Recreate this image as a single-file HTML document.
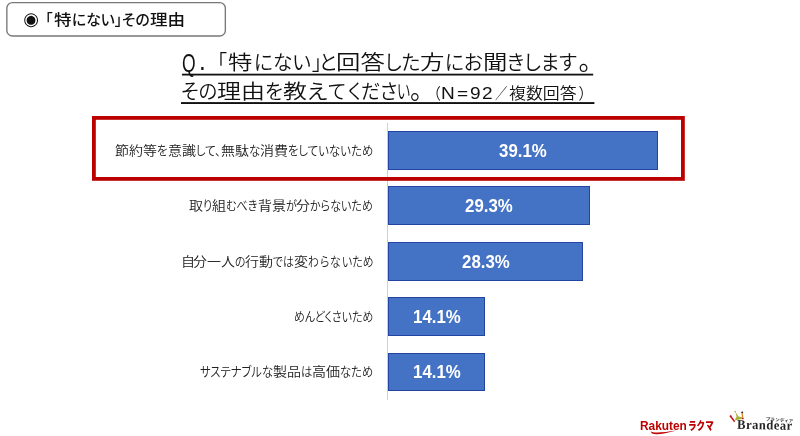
<!DOCTYPE html>
<html lang="ja"><head><meta charset="utf-8"><title>「特にない」その理由</title>
<style>
html,body{margin:0;padding:0;background:#fff}
body{width:800px;height:436px;position:relative;overflow:hidden;font-family:"Liberation Sans","Noto Sans CJK JP",sans-serif;color:#1a1a1a;font-feature-settings:"palt"}
.abs{position:absolute}
.r{display:inline-block;white-space:pre;vertical-align:baseline;line-height:0}
.r>span{display:inline-block;transform-origin:0 50%;white-space:pre}
#tagt{position:absolute;left:23px;top:8px;font-size:15px;font-weight:500;line-height:24px;white-space:nowrap;color:#111}
.t{position:absolute;white-space:nowrap;color:#111;font-size:20.5px;line-height:30px;font-weight:350}
.ul{position:absolute;height:1.9px;background:#111}
#axis{position:absolute;left:387px;top:122.7px;width:1px;height:277px;background:#d0d0d0}
.bar{position:absolute;left:388px;height:38.8px;background:#4472c4;box-sizing:border-box;border:1px solid #2444a4;display:flex;align-items:center;justify-content:center}
.bar span{display:inline-block;color:#fff;font-weight:bold;font-size:17.6px;line-height:1;position:relative;top:1.2px;font-feature-settings:normal;transform:scaleX(0.955)}
.lab{position:absolute;right:426.8px;height:38.8px;line-height:38.8px;font-size:13px;font-weight:350;white-space:nowrap;color:#222}
</style></head><body>
<svg class="abs" style="left:0;top:0" width="800" height="436" viewBox="0 0 800 436"><rect x="6.85" y="2.6" width="218.5" height="33.4" rx="5.6" fill="#fff" stroke="#777" stroke-width="1.35"/><rect x="182" y="73.7" width="411.2" height="1.8" fill="#111"/><rect x="181" y="102.1" width="413.4" height="1.9" fill="#111"/></svg>
<div class="abs" id="bul" style="left:23.3px;top:5.9px;font-family:'DejaVu Sans',sans-serif;font-size:18px;line-height:26px;color:#111;font-feature-settings:normal">◉</div>
<div id="tagt"><span class="r" style="width:22.00px;font-size:1px;overflow:hidden"> </span><span class="r" style="width:7.40px;"><span style="transform:scaleX(0.985)">「</span></span><span class="r" style="width:0;margin-left:2.00px"></span><span class="r" style="width:17.61px;"><span style="transform:scaleX(1.173)">特</span></span><span class="r" style="width:77.66px;"><span style="transform:scaleX(0.985)">にない」その</span></span><span class="r" style="width:35.21px;"><span style="transform:scaleX(1.173)">理由</span></span></div>
<div class="t" id="t1" style="left:182px;top:48.0px"><span class="r" style="width:13.62px;font-size:25.0px;position:relative;top:1.5px;"><span style="transform:scaleX(0.700)">Q</span></span><span class="r" style="width:0;margin-left:3.50px"></span><span class="r" style="width:6.76px;font-size:27.0px;"><span style="transform:scaleX(0.900)">.</span></span><span class="r" style="width:11.00px;font-size:1px;overflow:hidden"> </span><span class="r" style="width:9.84px;"><span style="transform:scaleX(0.960)">「</span></span><span class="r" style="width:0;margin-left:1.10px"></span><span class="r" style="width:24.39px;"><span style="transform:scaleX(1.190)">特</span></span><span class="r" style="width:0;margin-left:1.50px"></span><span class="r" style="width:56.86px;"><span style="transform:scaleX(0.960)">にない</span></span><span class="r" style="width:0;margin-left:1.00px"></span><span class="r" style="width:9.84px;"><span style="transform:scaleX(0.960)">」</span></span><span class="r" style="width:0;margin-left:-2.50px"></span><span class="r" style="width:17.34px;"><span style="transform:scaleX(0.960)">と</span></span><span class="r" style="width:48.79px;"><span style="transform:scaleX(1.190)">回答</span></span><span class="r" style="width:35.41px;"><span style="transform:scaleX(0.960)">した</span></span><span class="r" style="width:24.39px;"><span style="transform:scaleX(1.190)">方</span></span><span class="r" style="width:37.83px;"><span style="transform:scaleX(0.960)">にお</span></span><span class="r" style="width:24.39px;"><span style="transform:scaleX(1.190)">聞</span></span><span class="r" style="width:69.80px;"><span style="transform:scaleX(0.960)">きします</span></span><span class="r" style="width:0;margin-left:1.50px"></span><span class="r" style="width:13.02px;font-size:26.0px;"><span>。</span></span></div>
<div class="t" id="t2" style="left:181px;top:77.2px"><span class="r" style="width:36.14px;"><span style="transform:scaleX(0.944)">その</span></span><span class="r" style="width:47.97px;"><span style="transform:scaleX(1.170)">理由</span></span><span class="r" style="width:17.86px;"><span style="transform:scaleX(0.944)">を</span></span><span class="r" style="width:23.98px;"><span style="transform:scaleX(1.170)">教</span></span><span class="r" style="width:0;margin-left:0.00px"></span><span class="r" style="width:20.42px;"><span style="transform:scaleX(1.100)">え</span></span><span class="r" style="width:0;margin-left:0.50px"></span><span class="r" style="width:17.82px;"><span style="transform:scaleX(0.944)">て</span></span><span class="r" style="width:0;margin-left:2.00px"></span><span class="r" style="width:13.30px;"><span style="transform:scaleX(0.944)">く</span></span><span class="r" style="width:0;margin-left:0.00px"></span><span class="r" style="width:19.62px;"><span style="transform:scaleX(0.944)">だ</span></span><span class="r" style="width:0;margin-left:-0.75px"></span><span class="r" style="width:17.24px;"><span style="transform:scaleX(0.944)">さ</span></span><span class="r" style="width:0;margin-left:0.00px"></span><span class="r" style="width:13.16px;"><span style="transform:scaleX(0.680)">い</span></span><span class="r" style="width:0;margin-left:-0.50px"></span><span class="r" style="width:12.52px;font-size:25.0px;"><span>。</span></span><span class="r" style="width:0;margin-left:10.92px"></span><span class="r" style="width:7.32px;font-size:15.4px;"><span style="transform:scaleX(0.950)">（</span></span><span class="r" style="width:0;margin-left:0.50px"></span><span class="r" style="width:13.76px;font-size:17.0px;"><span style="transform:scaleX(1.120)">N</span></span><span class="r" style="width:0;margin-left:2.00px"></span><span class="r" style="width:11.13px;font-size:17.0px;"><span style="transform:scaleX(1.120)">=</span></span><span class="r" style="width:0;margin-left:2.00px"></span><span class="r" style="width:10.61px;font-size:17.0px;"><span style="transform:scaleX(1.120)">9</span></span><span class="r" style="width:0;margin-left:1.50px"></span><span class="r" style="width:10.61px;font-size:17.0px;"><span style="transform:scaleX(1.120)">2</span></span><span class="r" style="width:0;margin-left:2.50px"></span><span class="r" style="width:12.33px;font-size:15.4px;"><span style="transform:scaleX(0.800)">／</span></span><span class="r" style="width:0;margin-left:1.70px"></span><span class="r" style="width:67.61px;font-size:15.4px;"><span style="transform:scaleX(1.098)">複数回答</span></span><span class="r" style="width:0;margin-left:2.00px"></span><span class="r" style="width:7.32px;font-size:15.4px;"><span style="transform:scaleX(0.950)">）</span></span></div>
<div id="axis"></div>
<div class="lab" style="top:131.7px"><span class="r" style="width:42.02px;"><span style="transform:scaleX(1.077)">節約等</span></span><span class="r" style="width:10.51px;"><span style="transform:scaleX(0.876)">を</span></span><span class="r" style="width:28.02px;"><span style="transform:scaleX(1.077)">意識</span></span><span class="r" style="width:24.88px;"><span style="transform:scaleX(0.876)">して、</span></span><span class="r" style="width:28.02px;"><span style="transform:scaleX(1.077)">無駄</span></span><span class="r" style="width:11.20px;"><span style="transform:scaleX(0.876)">な</span></span><span class="r" style="width:28.02px;"><span style="transform:scaleX(1.077)">消費</span></span><span class="r" style="width:85.16px;"><span style="transform:scaleX(0.876)">をしていないため</span></span></div>
<div class="bar" style="top:131.0px;width:270.0px"><span>39.1%</span></div>
<div class="lab" style="top:187.1px"><span class="r" style="width:14.02px;"><span style="transform:scaleX(1.077)">取</span></span><span class="r" style="width:9.16px;"><span style="transform:scaleX(0.846)">り</span></span><span class="r" style="width:14.02px;"><span style="transform:scaleX(1.077)">組</span></span><span class="r" style="width:31.30px;"><span style="transform:scaleX(0.846)">むべき</span></span><span class="r" style="width:28.02px;"><span style="transform:scaleX(1.077)">背景</span></span><span class="r" style="width:10.77px;"><span style="transform:scaleX(0.846)">が</span></span><span class="r" style="width:14.02px;"><span style="transform:scaleX(1.077)">分</span></span><span class="r" style="width:62.82px;"><span style="transform:scaleX(0.846)">からないため</span></span></div>
<div class="bar" style="top:186.4px;width:202.3px"><span>29.3%</span></div>
<div class="lab" style="top:242.5px"><span class="r" style="width:14.02px;"><span style="transform:scaleX(1.077)">自</span></span><span class="r" style="width:0;margin-left:-2.75px"></span><span class="r" style="width:42.02px;"><span style="transform:scaleX(1.077)">分一人</span></span><span class="r" style="width:10.48px;"><span style="transform:scaleX(0.835)">の</span></span><span class="r" style="width:28.02px;"><span style="transform:scaleX(1.077)">行動</span></span><span class="r" style="width:20.89px;"><span style="transform:scaleX(0.835)">では</span></span><span class="r" style="width:14.02px;"><span style="transform:scaleX(1.077)">変</span></span><span class="r" style="width:10.93px;"><span style="transform:scaleX(0.835)">わ</span></span><span class="r" style="width:0;margin-left:1.00px"></span><span class="r" style="width:9.42px;"><span style="transform:scaleX(0.835)">ら</span></span><span class="r" style="width:0;margin-left:0.75px"></span><span class="r" style="width:10.67px;"><span style="transform:scaleX(0.835)">な</span></span><span class="r" style="width:0;margin-left:1.00px"></span><span class="r" style="width:31.42px;"><span style="transform:scaleX(0.835)">いため</span></span></div>
<div class="bar" style="top:241.8px;width:195.4px"><span>28.3%</span></div>
<div class="lab" style="top:297.9px"><span class="r" style="width:79.29px;"><span style="transform:scaleX(0.839)">めんどくさいため</span></span></div>
<div class="bar" style="top:297.2px;width:97.4px"><span>14.1%</span></div>
<div class="lab" style="top:353.3px"><span class="r" style="width:73.03px;"><span style="transform:scaleX(0.867)">サステナブルな</span></span><span class="r" style="width:28.02px;"><span style="transform:scaleX(1.077)">製品</span></span><span class="r" style="width:11.28px;"><span style="transform:scaleX(0.867)">は</span></span><span class="r" style="width:28.02px;"><span style="transform:scaleX(1.077)">高価</span></span><span class="r" style="width:33.05px;"><span style="transform:scaleX(0.867)">なため</span></span></div>
<div class="bar" style="top:352.6px;width:97.4px"><span>14.1%</span></div>
<svg class="abs" style="left:0;top:0;pointer-events:none" width="800" height="436" viewBox="0 0 800 436"><rect x="93.9" y="117.9" width="589" height="61" fill="none" stroke="#bb0000" stroke-width="3.8"/></svg>
<div class="abs" id="rk" style="left:640px;top:417.8px;font-size:12.5px;font-weight:bold;color:#bf0000;white-space:nowrap;line-height:16px;font-feature-settings:normal"><span class="r" style="width:45.5px"><span style="transform:scaleX(0.95)">Rakuten</span></span><span class="r" style="width:0;margin-left:2.5px"></span><span class="r" style="font-size:11.3px;width:30px;font-weight:900;position:relative;top:-0.3px"><span style="transform:scaleX(0.76)">ラクマ</span></span></div>
<svg class="abs" style="left:648px;top:428px" width="32" height="8" viewBox="0 0 32 8"><path d="M2.5 3.2 Q6 6.2 28.5 2.6 Q10 7.8 4 5.6 Z" fill="#bf0000"/></svg>
<svg class="abs" style="left:726px;top:408px" width="22" height="16" viewBox="0 0 22 16"><path d="M4.6 8.3 L8.3 13.2" stroke="#c01818" stroke-width="1.5" stroke-linecap="round" fill="none"/><circle cx="4.6" cy="8.2" r="1" fill="#c01818"/><path d="M8.6 12.6 L10.6 8.4 L9.2 3.4 L12.6 8.6 L16.4 9.4 L15.8 11 Z" fill="#a9b13a"/><circle cx="9.2" cy="3.6" r=".9" fill="#b9bd4a"/><circle cx="16.2" cy="4.6" r="1" fill="#222"/><path d="M16.2 5.4 L16.6 9.6" stroke="#d89020" stroke-width="1.3" fill="none"/><circle cx="16.8" cy="10.4" r=".9" fill="#c01818"/></svg>
<div class="abs" id="br" style="left:737.3px;top:416.4px;font-family:'Liberation Serif',serif;font-size:12.6px;font-weight:bold;line-height:18px;color:#262626;letter-spacing:0.45px;white-space:nowrap;transform:rotate(1.2deg) scale(1,1.05);transform-origin:0 100%;font-feature-settings:normal">Brandear</div>
<div class="abs" id="brk" style="left:766px;top:414.2px;width:60px;font-size:9px;line-height:10px;color:#333;white-space:nowrap;transform:scale(.5) rotate(5deg);transform-origin:0 50%;letter-spacing:1.2px;font-weight:bold">ブランディア</div>
</body></html>
